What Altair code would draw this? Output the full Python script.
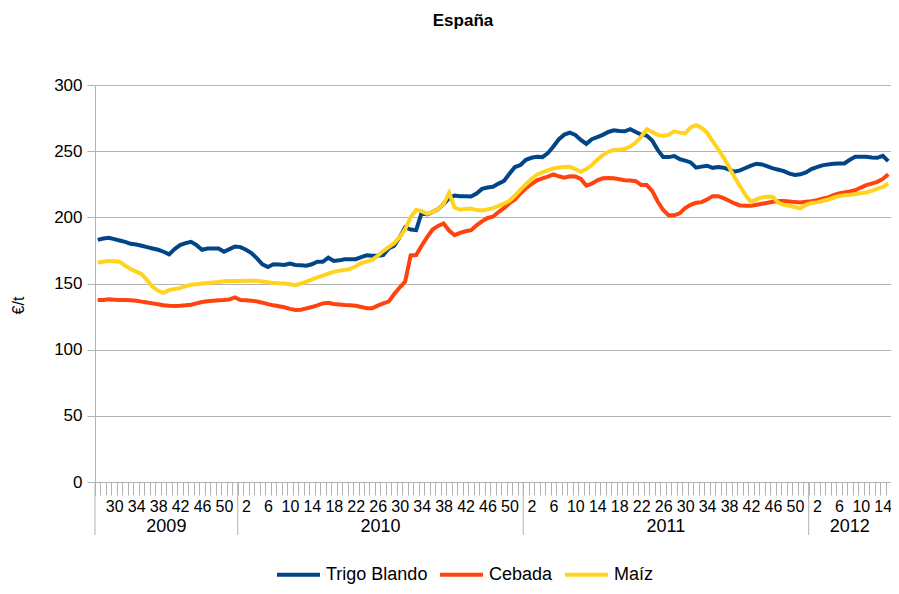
import json
import altair as alt
import pandas as pd

# ---- categories: (year, weeks) ----
years = [2009, 2010, 2011, 2012]
weeks_2009 = list(range(27, 53))
weeks_2010 = list(range(1, 53))
weeks_2011 = list(range(1, 53))
weeks_2012 = list(range(1, 16))
weeks_by_year = [weeks_2009, weeks_2010, weeks_2011, weeks_2012]

series_names = ["Trigo Blando", "Cebada", "Maíz"]
series_colors = ["#004586", "#ff420e", "#ffd320"]

trigo = [
    183, 184, 184.5, 183.5, 182.5, 181.5, 180, 179.5, 178.5, 177.5,
    176.5, 175.5, 174, 172, 176, 179, 180.5, 181.5, 179, 175.5,
    176.5, 176.5, 176.5, 174, 176, 178,
    177.5, 175.5, 173, 169, 164.5, 162.5, 164.5, 164.3, 164, 165,
    164, 163.8, 163.5, 164.5, 166.5, 166.4, 169.5, 167, 167.5, 168.3,
    168.4, 168.4, 170, 171.3, 171, 171, 171.5, 176.5, 178.5, 185,
    192.5, 190.8, 190.3, 203.5, 202.3, 204, 206.2, 210, 214.5, 216.5,
    216, 216, 215.8, 218, 221.5, 222.5, 223.1, 225.5, 227.5, 233,
    238, 239.5,
    243.5, 245, 245.7, 245.5, 248.5, 253.5, 259, 262.5, 264, 262.2,
    258.5, 255.5, 259, 260.6, 262.3, 264.5, 265.8, 265.2, 265, 266.6,
    264.5, 262.5, 261.8, 258, 251, 245.5, 245.5, 246.3, 244, 242.8,
    241.5, 237.5, 238.3, 239, 237.4, 238, 237.5, 236, 234.5, 235.5,
    237.3, 239, 240.5, 240, 238.5, 237, 236, 234.9, 233, 232,
    232.5, 234,
    236.5, 238, 239.3, 240, 240.5, 240.7, 240.7, 243.5, 245.7, 245.7,
    245.7, 245.3, 245, 246.5, 242.5,
]

cebada = [
    137.5, 137.5, 138, 137.8, 137.5, 137.5, 137.3, 137, 136.3, 135.7,
    135, 134.3, 133.6, 133.2, 133, 133.2, 133.5, 134, 135, 136,
    136.6, 137, 137.3, 137.5, 138, 139.5,
    137.5, 137.3, 137, 136.5, 135.5, 134.4, 133.5, 132.8, 132, 130.8,
    130, 130.2, 131.2, 132.2, 133.5, 135, 135.5, 134.5, 134.2, 133.8,
    133.5, 133.2, 132.3, 131.3, 131.3, 133.3, 135, 136.3, 142, 147,
    151.5, 171.2, 171.5, 178.5, 185, 190.8, 193.5, 195.4, 190, 186.5,
    188.3, 189.5, 190.3, 194, 197, 199.5, 200.5, 204, 207, 210.7,
    213.5, 218,
    222, 225, 228, 229.4, 230.8, 232.4, 231, 230, 231, 230.8,
    229, 224, 225.5, 228, 229.5, 229.8, 229.5, 228.8, 228.1, 227.8,
    227.3, 224.5, 224.4, 220, 212, 205.5, 201.5, 201.5, 203, 207,
    209.5, 211, 211.5, 213.5, 216, 216, 214.5, 212.5, 210.5, 209,
    208.8, 208.8, 209.5, 210.3, 211, 211.8, 212.3, 212.3, 212, 211.5,
    211.3, 211.8,
    212.2, 213, 214, 215, 216.8, 218, 218.8, 219.5, 220.5, 222.5,
    224.3, 225.5, 226.8, 229, 232.5,
]

maiz = [
    165.9, 166.5, 167, 166.8, 166.4, 163.5, 161, 159, 157, 152.5,
    147.5, 144.5, 143, 145, 145.8, 146.5, 148, 149, 149.5, 150,
    150.3, 150.7, 151.2, 151.7, 151.8, 151.8,
    151.9, 152, 152, 152, 151.5, 151, 150.3, 150.1, 150, 149.5,
    148.7, 150, 151.4, 153, 154.6, 156, 157.5, 158.8, 159.7, 160.3,
    161, 163, 165.5, 166.5, 167.8, 171, 174.5, 177.5, 180.5, 185,
    191, 200, 205.5, 204.7, 202.7, 204, 206.2, 210, 218.5, 207.5,
    205.7, 206.3, 206.7, 205.5, 205.2, 206, 207, 208.7, 210.3, 212.5,
    216.5, 221,
    225, 229, 232.2, 234, 235.5, 237, 237.7, 238, 238.2, 236.5,
    234.4, 236.5, 239.5, 243.5, 247, 249.5, 250.8, 251, 251.8, 253.5,
    256.5, 261, 266.6, 264.5, 262.3, 261.5, 262.5, 265, 264, 263.5,
    268, 269.6, 267.5, 264, 257.5, 251.5, 245.3, 238, 230.2, 223.5,
    217, 211.5, 213.5, 215, 215.8, 215.5, 211, 209.5, 208.8, 207.8,
    206.8, 209.5,
    210.8, 211.3, 212.3, 213.3, 214.8, 216, 216.7, 217, 217.4, 218.3,
    218.8, 220, 221.5, 223, 225.6,
]

y_ticks = [0, 50, 100, 150, 200, 250, 300]

# ---- build tables ----
keys = []
for yr, wks in zip(years, weeks_by_year):
    for w in wks:
        keys.append((yr, w))
N = len(keys)

rows = []
for name, vals in zip(series_names, [trigo, cebada, maiz]):
    for i, ((yr, w), v) in enumerate(zip(keys, vals)):
        rows.append({"idx": i, "year": yr, "week": w, "series": name, "value": v})
df = pd.DataFrame(rows)

# year separators (category boundaries) and year label positions
bounds, mids, start = [], [], 0
for yr, wks in zip(years, weeks_by_year):
    bounds.append(start - 0.5)
    mids.append(start + (len(wks) - 1) / 2)
    start += len(wks)
sep_df = pd.DataFrame({"idx": bounds})
year_df = pd.DataFrame({"idx": mids, "label": [str(y) for y in years]})

week_labels = [str(w) if w % 4 == 2 else "" for (_, w) in keys] + [""]
label_expr = json.dumps(week_labels) + "[round(datum.value + 0.5)]"

W, H = 796, 397
GRAY = "#b3b3b3"
FONT = "Liberation Sans"

x_scale = alt.Scale(domain=[-0.5, N - 0.5], nice=False, zero=False)
x_axis = alt.Axis(
    values=[i - 0.5 for i in range(N + 1)],
    labelExpr=label_expr,
    labelOffset=W / N / 2,
    labelAngle=0,
    labelOverlap=False,
    labelBound=False,
    labelFlush=False,
    labelFontSize=16,
    labelColor="#000000",
    labelPadding=3,
    tickSize=13,
    tickColor=GRAY,
    domainColor=GRAY,
    grid=False,
    title=None,
)
x_enc = alt.X("idx:Q", scale=x_scale, axis=x_axis)

lines = alt.Chart(df).mark_line(strokeWidth=4).encode(
    x=x_enc,
    y=alt.Y(
        "value:Q",
        scale=alt.Scale(domain=[0, 300], nice=False),
        axis=alt.Axis(
            values=y_ticks,
            title="€/t",
            titleAngle=270,
            titleX=-77,
            titleY=220,
            titleAlign="center",
            titleBaseline="middle",
            titleFontSize=16,
            titleFontWeight="normal",
            titleColor="#000000",
            labelFontSize=17,
            labelColor="#000000",
            labelPadding=5,
            tickSize=8,
            tickColor=GRAY,
            domainColor=GRAY,
            gridColor=GRAY,
        ),
    ),
    color=alt.Color(
        "series:N",
        scale=alt.Scale(domain=series_names, range=series_colors),
        legend=alt.Legend(
            title=None,
            orient="none",
            legendX=180,
            legendY=466,
            direction="horizontal",
            symbolType="stroke",
            symbolSize=1849,
            symbolStrokeWidth=4,
            labelFontSize=18,
            labelColor="#000000",
            labelOffset=4,
            columnPadding=4,
        ),
    ),
    order=alt.Order("idx:Q"),
)

seps = alt.Chart(sep_df).mark_rule(color=GRAY, strokeWidth=1).encode(
    x=x_enc,
    y=alt.value(H),
    y2=alt.value(H + 53),
)

year_text = alt.Chart(year_df).mark_text(
    fontSize=18, baseline="middle", align="center", color="#000000"
).encode(
    x=x_enc,
    y=alt.value(442),
    text="label:N",
)

chart = (
    alt.layer(seps, year_text, lines)
    .properties(
        width=W,
        height=H,
        autosize=alt.AutoSizeParams(type="none"),
        padding={"left": 87, "top": 77, "right": 0, "bottom": 104},
        title=alt.TitleParams(
            "España", fontSize=17, fontWeight="bold", anchor="middle", dx=-30, offset=46, color="#000000"
        ),
    )
    .configure(font=FONT)
    .configure_view(stroke=None)
)

chart.save("out.html", embed_options={"renderer": "svg", "actions": False})
